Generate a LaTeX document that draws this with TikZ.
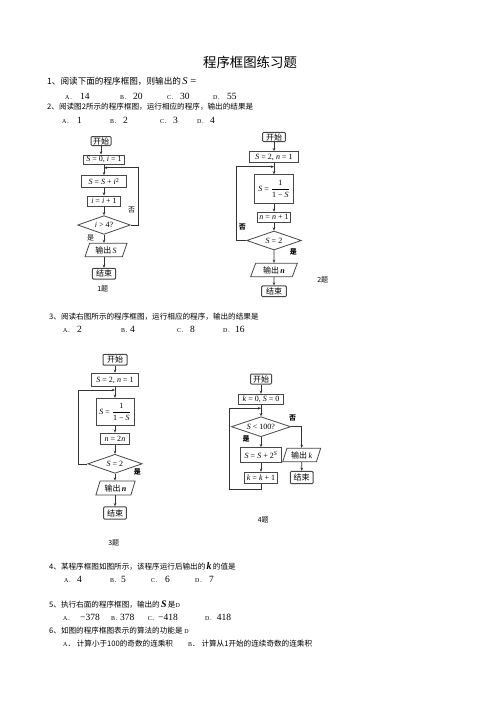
\documentclass[tikz,border=0pt]{standalone}
\usepackage{fontspec}
\usepackage{amsmath}
\setmainfont{Liberation Serif}
\newfontfamily\cjk{Noto Sans CJK SC}
\usetikzlibrary{shapes.geometric,arrows.meta}
\newcommand\qtf{\cjk\fontsize{7.6}{9}\selectfont}
\newcommand\ltf{\rmfamily\fontsize{6}{7}\selectfont}
\newcommand\nmf{\rmfamily\fontsize{9.5}{10}\selectfont}
\newcommand\fcf{\rmfamily\fontsize{8}{9.5}\selectfont}
\newcommand\vi[1]{\textit{#1}}
\newcommand\vb[1]{\textbf{\textit{#1}}}
\newcommand\opt[6]{%
  \node[anchor=base west,inner sep=0pt,font=\ltf] (#1l) at (#2,#4) {#5\cjk{．}};%
  \node[anchor=base west,inner sep=0pt,font=\nmf] (#1n) at (#3,#4) {#6};}
\tikzset{
  fcline/.style={draw=black!72},
  box/.style={fcline, line width=1pt, inner sep=0pt, font=\fcf},
  dia/.style={fcline, diamond, line width=0.8pt, inner sep=0pt, aspect=2.8, font=\fcf},
  io/.style={fcline, trapezium, trapezium left angle=68, trapezium right angle=112, trapezium stretches=true, line width=0.8pt, inner sep=0pt, font=\fcf},
  arr/.style={draw=black!80, line width=0.6pt, -{Stealth[length=3.2pt,width=2.6pt]}},
  lab/.style={inner sep=0pt, font=\cjk\fontsize{7}{8}\selectfont},
  blab/.style={inner sep=0pt, font=\cjk\bfseries\fontsize{7}{8}\selectfont},
}
\begin{document}
\begin{tikzpicture}[x=1pt,y=-1pt]
\useasboundingbox[fill=white] (0,0) rectangle (500,707);
% title and questions
\node[anchor=base,inner sep=0pt,font=\cjk\fontsize{13.4}{15}\selectfont] (title) at (250,67) {程序框图练习题};
\node[anchor=base west,inner sep=0pt,font=\cjk\fontsize{8.6}{10}\selectfont] (q1) at (47,84.5) {1、阅读下面的程序框图，则输出的\,{\rmfamily\fontsize{10.5}{11}\selectfont\itshape S\upshape\ =}};
\opt{a1}{65}{80}{99.5}{A}{14}
\opt{b1}{120}{133}{99.5}{B}{20}
\opt{c1}{167}{180}{99.5}{C}{30}
\opt{d1}{213}{227}{99.5}{D}{55}
\node[anchor=base west,inner sep=0pt,font=\qtf] (q2) at (47,109) {2、阅读图2所示的程序框图，运行相应的程序，输出的结果是};
\opt{a2}{62}{77}{123.5}{A}{1}
\opt{b2}{110}{123}{123.5}{B}{2}
\opt{c2}{160}{173}{123.5}{C}{3}
\opt{d2}{197}{210}{123.5}{D}{4}
\node[anchor=base west,inner sep=0pt,font=\qtf] (q3) at (49,319) {3、阅读右图所示的程序框图，运行相应的程序，输出的结果是};
\opt{a3}{63}{77}{332.8}{A}{2}
\opt{b3}{121}{130}{332.8}{B}{4}
\opt{c3}{177}{190}{332.8}{C}{8}
\opt{d3}{223}{235}{332.8}{D}{16}
\node[anchor=base west,inner sep=0pt,font=\qtf] (q4) at (49,569) {4、某程序框图如图所示，该程序运行后输出的\,{\rmfamily\fontsize{10}{10}\selectfont\bfseries\itshape k}\,的值是};
\opt{a4}{64}{77}{582.8}{A}{4}
\opt{b4}{110}{121}{582.8}{B}{5}
\opt{c4}{151}{165}{582.8}{C}{6}
\opt{d4}{195}{209}{582.8}{D}{7}
\node[anchor=base west,inner sep=0pt,font=\qtf] (q5) at (49,607) {5、执行右面的程序框图，输出的\,{\rmfamily\fontsize{10}{10}\selectfont\bfseries\itshape S}\,是{\rmfamily\fontsize{6}{7}\selectfont D}};
\opt{a5}{63}{80}{620.8}{A}{−378}
\opt{b5}{111}{120}{620.8}{B}{378}
\opt{c5}{147.7}{158}{620.8}{C}{−418}
\opt{d5}{205}{216.7}{620.8}{D}{418}
\node[anchor=base west,inner sep=0pt,font=\qtf] (q6) at (49,633.7) {6、如图的程序框图表示的算法的功能是 {\rmfamily\fontsize{6}{7}\selectfont D}};
\node[anchor=base west,inner sep=0pt,font=\qtf] (a6) at (63,646.3) {{\ltf A}．\ 计算小于100的奇数的连乘积};
\node[anchor=base west,inner sep=0pt,font=\qtf] (b6) at (188,646.3) {{\ltf B}．\ 计算从1开始的连续奇数的连乘积};

% ---------- figure 1 ----------
\node[box,rounded corners=1pt,minimum width=20pt,minimum height=9pt] (f1s) at (101,141) {\cjk 开始};
\node[box,minimum width=41.6pt,minimum height=9pt] (f1a) at (104,159.5) {\vi{S} = 0, \vi{i} = 1};
\node[box,minimum width=45pt,minimum height=11.6pt] (f1b) at (104,181.5) {\vi{S} = \vi{S} + \vi{i}\textsuperscript{2}};
\node[box,minimum width=32.6pt,minimum height=10pt] (f1c) at (104,201) {\vi{i} = \vi{i} + 1};
\node[dia,minimum width=52.7pt,minimum height=18.7pt] (f1d) at (104,225) {\vi{i} > 4?};
\node[io,minimum width=42pt,minimum height=13.4pt] (f1o) at (106,250) {{\cjk 输出}\,\vi{S}};
\node[box,rounded corners=1pt,minimum width=23.3pt,minimum height=10.7pt] (f1e) at (104,273.7) {\cjk 结束};
\coordinate (f1j) at (104,167.7);
\coordinate (f1c1) at (138.3,167.7);
\draw[arr] (f1s.south) -- (f1s.south |- f1a.north);
\draw[arr] (f1a) -- (f1b);
\draw[arr] (f1b) -- (f1c);
\draw[arr] (f1c) -- (f1d);
\draw[arr] (f1d) -- (f1d |- f1o.north);
\draw[arr] (f1o.south -| f1e) -- (f1e);
\draw[arr] (f1d.east) -| (f1c1) -- (f1j);
\node[lab] (f1no) at (131.7,210) {否};
\node[lab] (f1yes) at (90.7,238.3) {是};
\node[lab] (f1t) at (102.7,289.3) {1题};

% ---------- figure 2 ----------
\node[box,rounded corners=1pt,minimum width=22.6pt,minimum height=9.4pt] (f2s) at (274,137) {\cjk 开始};
\node[box,minimum width=49pt,minimum height=10.6pt] (f2a) at (274,157) {\vi{S} = 2, \vi{n} = 1};
\node[box,minimum width=39pt,minimum height=28.3pt] (f2b) at (274,189) {\vi{S} = $\dfrac{\text{1}}{\text{1 − \vi{S}}}$};
\node[box,minimum width=33.7pt,minimum height=10pt] (f2c) at (274,217.3) {\vi{n} = \vi{n} + 1};
\node[dia,minimum width=54.7pt,minimum height=19pt] (f2d) at (274,240.5) {\vi{S} = 2};
\node[io,minimum width=46.7pt,minimum height=13.4pt] (f2o) at (274,270) {{\cjk 输出}\,\vb{n}};
\node[box,rounded corners=1pt,minimum width=24.7pt,minimum height=10.7pt] (f2e) at (274,291.3) {\cjk 结束};
\coordinate (f2j) at (274,166.7);
\coordinate (f2c1) at (236.7,166.7);
\draw[arr] (f2s) -- (f2a);
\draw[arr] (f2a) -- (f2b);
\draw[arr] (f2b) -- (f2c);
\draw[arr] (f2c) -- (f2d);
\draw[arr] (f2d) -- (f2o);
\draw[arr] (f2o) -- (f2e);
\draw[arr] (f2d.west) -| (f2c1) -- (f2j);
\node[blab] (f2no) at (242.3,226.7) {否};
\node[blab] (f2yes) at (293.3,252.3) {是};
\node[lab] (f2t) at (322.7,280.3) {2题};

% ---------- figure 3 ----------
\node[box,rounded corners=1pt,minimum width=24pt,minimum height=10.7pt] (f3s) at (115,359.7) {\cjk 开始};
\node[box,minimum width=46.6pt,minimum height=13.4pt] (f3a) at (115,380) {\vi{S} = 2, \vi{n} = 1};
\node[box,minimum width=38pt,minimum height=26.7pt] (f3b) at (115,411.7) {\vi{S} = $\dfrac{\text{1}}{\text{1 − \vi{S}}}$};
\node[box,minimum width=28.6pt,minimum height=11.7pt] (f3c) at (115,439) {\vi{n} = 2\vi{n}};
\node[dia,minimum width=54.4pt,minimum height=19pt] (f3d) at (115,463.8) {\vi{S} = 2};
\node[io,minimum width=39.3pt,minimum height=14pt] (f3o) at (115.5,488) {{\cjk 输出}\,\vb{n}};
\node[box,rounded corners=1pt,minimum width=22.7pt,minimum height=12.3pt] (f3e) at (115,513) {\cjk 结束};
\coordinate (f3j) at (115,390);
\coordinate (f3c1) at (78.3,390);
\draw[arr] (f3s) -- (f3a);
\draw[arr] (f3a) -- (f3b);
\draw[arr] (f3b) -- (f3c);
\draw[arr] (f3c) -- (f3d);
\draw[arr] (f3d) -- (f3d |- f3o.north);
\draw[arr] (f3o.south -| f3e) -- (f3e);
\draw[arr] (f3d.west) -| (f3c1) -- (f3j);
\node[blab] (f3yes) at (137.3,472.3) {是};
\node[lab] (f3t) at (113.7,543) {3题};

% ---------- figure 4 ----------
\node[box,rounded corners=1pt,minimum width=21pt,minimum height=10pt] (f4s) at (261,379) {\cjk 开始};
\node[box,minimum width=45.7pt,minimum height=10pt] (f4a) at (261,399.3) {\vi{k} = 0, \vi{S} = 0};
\node[dia,minimum width=59.3pt,minimum height=20pt] (f4d) at (261,426.7) {\vi{S} < 100?};
\node[box,minimum width=40.7pt,minimum height=14.6pt] (f4b) at (261,455) {\vi{S} = \vi{S} + 2\textsuperscript{\vi{S}}};
\node[io,minimum width=38pt,minimum height=13.4pt] (f4o) at (301.7,455) {{\cjk 输出}\,\vi{k}};
\node[box,minimum width=32.3pt,minimum height=11pt] (f4c) at (261,477.8) {\vi{k} = \vi{k} + 1};
\node[box,rounded corners=1pt,minimum width=22.7pt,minimum height=12.3pt] (f4e) at (301.7,477.5) {\cjk 结束};
\coordinate (f4j) at (261,408.3);
\coordinate (f4b1) at (229.3,489);
\draw[arr] (f4s) -- (f4a);
\draw[arr] (f4a) -- (f4d);
\draw[arr] (f4d) -- (f4b);
\draw[arr] (f4b) -- (f4c);
\draw[arr] (f4d.east) -| (f4o.north);
\draw[arr] (f4o) -- (f4e);
\draw[arr] (f4c.south) |- (f4b1) |- (f4j);
\node[blab] (f4no) at (292.7,418.3) {否};
\node[blab] (f4yes) at (246,439) {是};
\node[lab] (f4t) at (263.3,520) {4题};
\end{tikzpicture}
\end{document}
